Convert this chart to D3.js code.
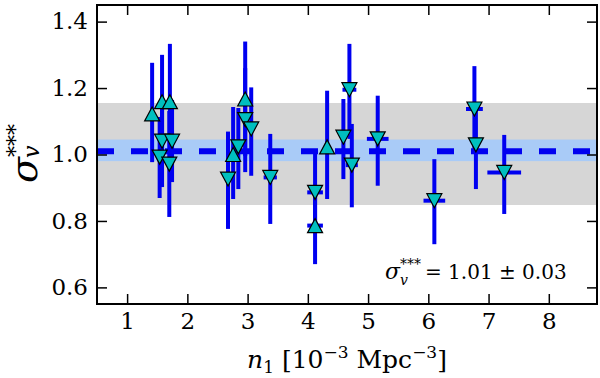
<!DOCTYPE html>
<html>
<head>
<meta charset="utf-8">
<script src="https://cdn.jsdelivr.net/npm/d3@7"></script>
<style>
  body { margin: 0; background: #fff; }
</style>
</head>
<body>
<div id="chart"></div>
<script>
// measurements
var n1     = [1.415, 1.58, 1.71, 1.58, 1.746, 1.54, 1.70, 2.675, 2.76, 2.846, 2.96, 2.96, 3.06, 3.376, 4.12, 4.12, 4.32, 4.59, 4.69, 4.73, 5.16, 6.10, 6.765, 6.79, 7.26];
var sigma  = [1.122, 1.159, 1.159, 1.04, 1.04, 0.992, 0.971, 0.926, 1.0, 1.023, 1.167, 1.105, 1.077, 0.931, 0.886, 0.786, 1.023, 1.052, 1.195, 0.968, 1.047, 0.861, 1.137, 1.029, 0.946];
var sigLo  = [0.977, 1.017, 0.986, 0.902, 0.917, 0.869, 0.812, 0.776, 0.866, 0.896, 0.995, 0.947, 0.936, 0.791, 0.776, 0.67, 0.866, 0.926, 1.047, 0.841, 0.906, 0.73, 1.017, 0.896, 0.821];
var sigHi  = [1.276, 1.30, 1.333, 1.176, 1.164, 1.113, 1.131, 1.069, 1.143, 1.14, 1.34, 1.26, 1.202, 1.062, 1.008, 0.896, 1.192, 1.167, 1.333, 1.092, 1.177, 0.986, 1.266, 1.137, 1.059];
var n1Err  = [0, 0, 0, 0, 0, 0, 0, 0, 0, 0, 0, 0, 0, 0.11, 0.13, 0.13, 0, 0, 0.115, 0.1, 0.18, 0.18, 0.14, 0, 0.28];
var shape  = ["up", "up", "up", "down", "down", "down", "down", "down", "up", "down", "up", "down", "down", "down", "down", "up", "up", "down", "down", "down", "down", "down", "down", "down", "down"];

var meanSigma = 1.01;
var meanBand = [0.98, 1.045];
var scatterBand = [0.848, 1.155];
var xTicks = [1, 2, 3, 4, 5, 6, 7, 8];
var yTicks = [0.6, 0.8, 1.0, 1.2, 1.4];

var FONT = "DejaVu Serif";

var W = 600, H = 378;
var L = 97, R = 597, T = 5, B = 304;

var svg = d3.select("#chart").append("svg")
    .attr("width", W)
    .attr("height", H)
    .attr("font-family", FONT);

var x = d3.scaleLinear().domain([0.5, 8.8]).range([L, R]);
var y = d3.scaleLinear().domain([0.55, 1.45]).range([B, T]);

// bands
svg.append("rect")
    .attr("x", L).attr("width", R - L)
    .attr("y", y(scatterBand[1]))
    .attr("height", y(scatterBand[0]) - y(scatterBand[1]))
    .attr("fill", "#d6d6d6");

svg.append("rect")
    .attr("x", L).attr("width", R - L)
    .attr("y", y(meanBand[1]))
    .attr("height", y(meanBand[0]) - y(meanBand[1]))
    .attr("fill", "#a9cbf7");

svg.append("line")
    .attr("x1", L).attr("x2", R)
    .attr("y1", y(meanSigma)).attr("y2", y(meanSigma))
    .attr("stroke", "#0000f0")
    .attr("stroke-width", 6)
    .attr("stroke-dasharray", "17,17");

var pts = n1.map(function(d, i) {
    return { x: d, y: sigma[i], lo: sigLo[i], hi: sigHi[i], xe: n1Err[i], s: shape[i] };
});

// error bars
svg.selectAll("line.ey")
    .data(pts)
    .enter()
    .append("line")
    .attr("class", "ey")
    .attr("x1", function(d) { return x(d.x); })
    .attr("x2", function(d) { return x(d.x); })
    .attr("y1", function(d) { return y(d.lo); })
    .attr("y2", function(d) { return y(d.hi); })
    .attr("stroke", "#0000f0")
    .attr("stroke-width", 4);

svg.selectAll("line.ex")
    .data(pts.filter(function(d) { return d.xe > 0; }))
    .enter()
    .append("line")
    .attr("class", "ex")
    .attr("x1", function(d) { return x(d.x - d.xe); })
    .attr("x2", function(d) { return x(d.x + d.xe); })
    .attr("y1", function(d) { return y(d.y); })
    .attr("y2", function(d) { return y(d.y); })
    .attr("stroke", "#0000f0")
    .attr("stroke-width", 4);

// triangles
var tri = {
    up: "M0,-7L7.5,7L-7.5,7Z",
    down: "M0,7L7.5,-7L-7.5,-7Z"
};
svg.selectAll("path.mk")
    .data(pts)
    .enter()
    .append("path")
    .attr("class", "mk")
    .attr("d", function(d) { return tri[d.s]; })
    .attr("transform", function(d) { return "translate(" + x(d.x) + "," + y(d.y) + ")"; })
    .attr("fill", "#00bfbf")
    .attr("stroke", "#000")
    .attr("stroke-width", 1.2);

// axes, ticks inward on all sides
function styleAxis(g) {
    g.attr("font-family", FONT).attr("font-size", 23);
    g.select(".domain").remove();
    g.selectAll(".tick line").attr("stroke", "#000").attr("stroke-width", 1.5);
    g.selectAll(".tick text").attr("fill", "#000");
}

svg.append("g")
    .attr("transform", "translate(0," + B + ")")
    .call(d3.axisBottom(x).tickValues(xTicks).tickSize(-10).tickPadding(9).tickFormat(d3.format("d")))
    .call(styleAxis);

svg.append("g")
    .attr("transform", "translate(0," + T + ")")
    .call(d3.axisTop(x).tickValues(xTicks).tickSize(-10).tickFormat(""))
    .call(styleAxis);

svg.append("g")
    .attr("transform", "translate(" + L + ",0)")
    .call(d3.axisLeft(y).tickValues(yTicks).tickSize(-10).tickPadding(9).tickFormat(d3.format(".1f")))
    .call(styleAxis);

svg.append("g")
    .attr("transform", "translate(" + R + ",0)")
    .call(d3.axisRight(y).tickValues(yTicks).tickSize(-10).tickFormat(""))
    .call(styleAxis);

svg.append("rect")
    .attr("x", L).attr("y", T)
    .attr("width", R - L).attr("height", B - T)
    .attr("fill", "none")
    .attr("stroke", "#000")
    .attr("stroke-width", 2);

// x label
var xl = svg.append("text")
    .attr("x", (L + R) / 2)
    .attr("y", 368)
    .attr("text-anchor", "middle")
    .attr("font-size", 25);
xl.append("tspan").attr("font-style", "italic").text("n");
xl.append("tspan").attr("dy", 5).attr("font-size", 17).text("1");
xl.append("tspan").attr("dy", -5).text(" [10");
xl.append("tspan").attr("dy", -10).attr("font-size", 17).text("\u22123");
xl.append("tspan").attr("dy", 10).text(" Mpc");
xl.append("tspan").attr("dy", -10).attr("font-size", 17).text("\u22123");
xl.append("tspan").attr("dy", 10).text("]");

// y label
var yl = svg.append("g")
    .attr("transform", "translate(37,183) rotate(-90)");
yl.append("text").attr("x", 0).attr("y", 0)
    .attr("font-size", 38).attr("font-style", "italic").text("\u03c3");
yl.append("text").attr("x", 25).attr("y", 2)
    .attr("font-size", 22).attr("font-style", "italic").text("v");
yl.append("text").attr("x", 26).attr("y", -14)
    .attr("font-size", 22).text("***");

// annotation
var an = svg.append("g").attr("font-size", 20);
an.append("text").attr("x", 385).attr("y", 279).attr("font-size", 22).attr("font-style", "italic").text("\u03c3");
an.append("text").attr("x", 400).attr("y", 269).attr("font-size", 14).text("***");
an.append("text").attr("x", 400).attr("y", 285).attr("font-size", 14).attr("font-style", "italic").text("v");
an.append("text").attr("x", 425).attr("y", 279).text("= 1.01 \u00b1 0.03");
</script>
</body>
</html>
